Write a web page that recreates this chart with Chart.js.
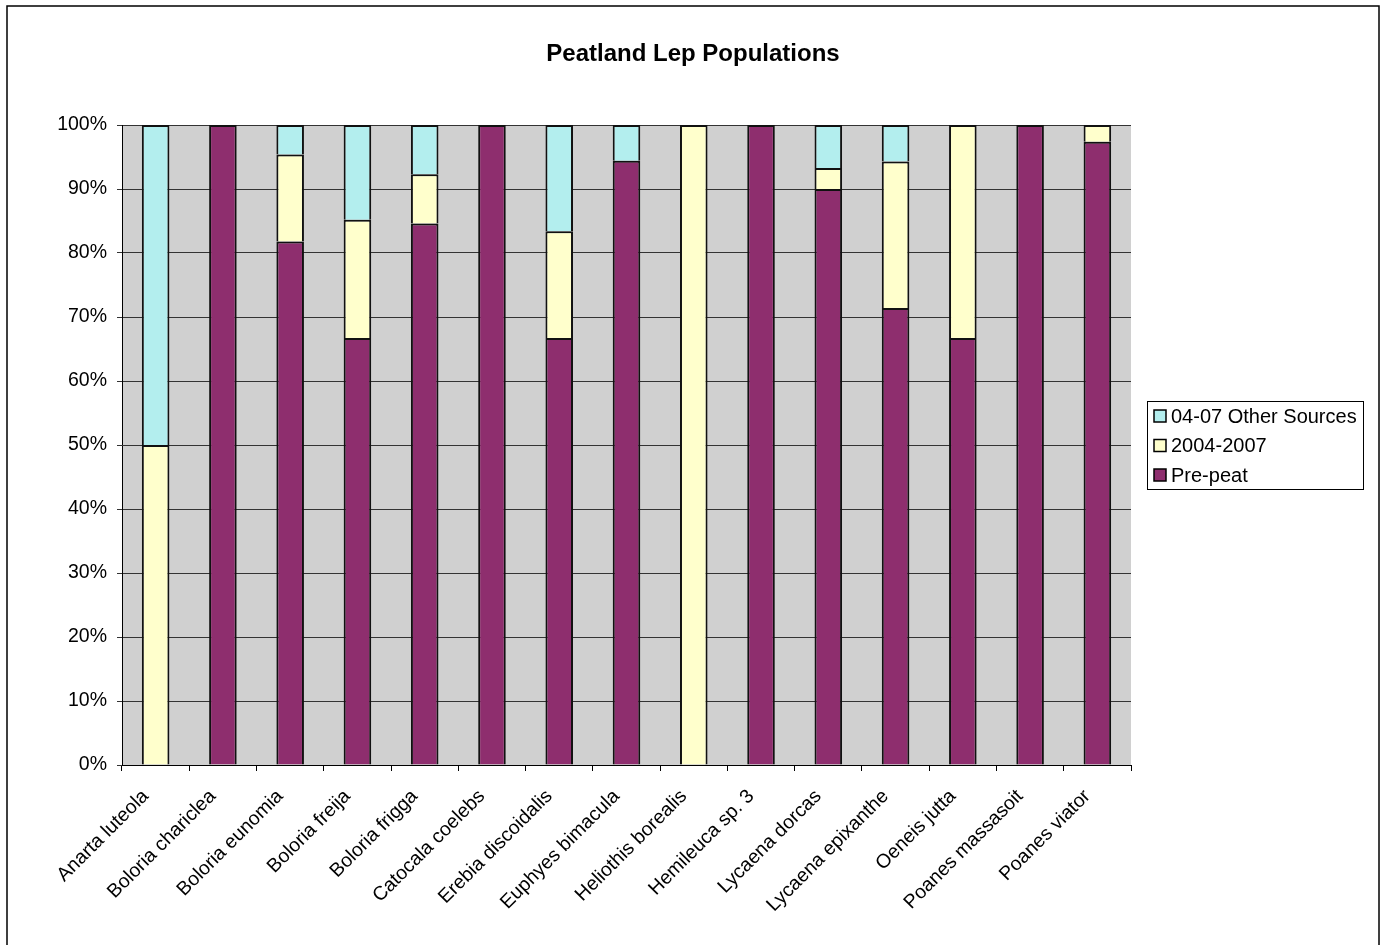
<!DOCTYPE html>
<html>
<head>
<meta charset="utf-8">
<title>Peatland Lep Populations</title>
<script src="https://cdn.jsdelivr.net/npm/chart.js@4/dist/chart.umd.min.js"></script>
<style>
  html, body { margin: 0; padding: 0; background: #fff; }
  canvas { display: block; }
</style>
</head>
<body>
<canvas id="myChart" width="1383" height="945"></canvas>
<script>
const chartTitle = 'Peatland Lep Populations';

const species = [
    'Anarta luteola', 'Boloria chariclea', 'Boloria eunomia', 'Boloria freija',
    'Boloria frigga', 'Catocala coelebs', 'Erebia discoidalis', 'Euphyes bimacula',
    'Heliothis borealis', 'Hemileuca sp. 3', 'Lycaena dorcas', 'Lycaena epixanthe',
    'Oeneis jutta', 'Poanes massasoit', 'Poanes viator'
];

// percent of each species' records
const prePeat      = [0, 100, 81.8, 66.7, 84.6, 100, 66.7, 94.4, 0, 100, 90.0, 71.4, 66.7, 100, 97.4];
const recent0407   = [50, 0, 13.6, 18.5, 7.7, 0, 16.7, 0, 100, 0, 3.3, 22.9, 33.3, 0, 2.6];
const otherSources = [50, 0, 4.6, 14.8, 7.7, 0, 16.6, 5.6, 0, 0, 6.7, 5.7, 0, 0, 0];

const seriesNames = ['Pre-peat', '2004-2007', '04-07 Other Sources'];
const yTicks = [0, 10, 20, 30, 40, 50, 60, 70, 80, 90, 100];

const FONT = '"Liberation Sans", Arial, sans-serif';
const colors = ['#8E2E6E', '#FFFFCC', '#B3EEEE'];

// white page, outer frame, grey plot area, title
const framePlugin = {
    id: 'frame',
    beforeDraw(chart) {
        const { ctx, chartArea } = chart;
        ctx.save();
        ctx.fillStyle = '#fff';
        ctx.fillRect(0, 0, chart.width, chart.height);
        ctx.fillStyle = '#D0D0D0';
        ctx.fillRect(chartArea.left, chartArea.top, chartArea.right - chartArea.left, chartArea.bottom - chartArea.top);
        ctx.strokeStyle = '#000';
        ctx.lineWidth = 1.5;
        ctx.strokeRect(7, 6, 1372, 960);
        ctx.fillStyle = '#000';
        ctx.font = 'bold 24px ' + FONT;
        ctx.textAlign = 'center';
        ctx.textBaseline = 'middle';
        ctx.fillText(chartTitle, 693, 54);
        ctx.restore();
    }
};

// boxed legend on the right, top series first
const boxLegend = {
    id: 'boxLegend',
    afterDraw(chart) {
        const { ctx } = chart;
        const x = 1147, y = 401, w = 216, h = 88;
        ctx.save();
        ctx.fillStyle = '#fff';
        ctx.fillRect(x, y, w, h);
        ctx.strokeStyle = '#000';
        ctx.lineWidth = 1;
        ctx.strokeRect(x + 0.5, y + 0.5, w, h);
        ctx.font = '20px ' + FONT;
        ctx.textBaseline = 'middle';
        ctx.textAlign = 'left';
        const sets = chart.data.datasets.slice().reverse();
        sets.forEach((ds, i) => {
            const cy = y + 15 + i * 29.5;
            ctx.fillStyle = ds.backgroundColor;
            ctx.fillRect(x + 7, cy - 6, 12, 12);
            ctx.strokeStyle = '#000';
            ctx.lineWidth = 1.5;
            ctx.strokeRect(x + 7, cy - 6, 12, 12);
            ctx.fillStyle = '#000';
            ctx.fillText(ds.label, x + 24, cy + 1);
        });
        ctx.restore();
    }
};

const ctx = document.getElementById('myChart').getContext('2d');

new Chart(ctx, {
    type: 'bar',
    data: {
        labels: species,
        datasets: [prePeat, recent0407, otherSources].map((vals, i) => ({
            label: seriesNames[i],
            data: vals,
            backgroundColor: colors[i],
            borderColor: '#111',
            borderWidth: 2,
            borderSkipped: 'start',
            barPercentage: 0.41,
            categoryPercentage: 1.0
        }))
    },
    options: {
        responsive: false,
        animation: false,
        layout: {
            padding: { left: 8, right: 252, top: 125, bottom: 0 }
        },
        plugins: {
            legend: { display: false },
            tooltip: { enabled: false },
            title: { display: false }
        },
        scales: {
            x: {
                stacked: true,
                afterFit: (scale) => { scale.height = 180; },
                grid: {
                    display: true,
                    offset: true,
                    drawOnChartArea: false,
                    drawTicks: true,
                    tickLength: 6,
                    color: '#000'
                },
                border: { display: true, color: '#000', width: 1 },
                ticks: {
                    autoSkip: false,
                    maxRotation: 45,
                    minRotation: 45,
                    padding: 14,
                    labelOffset: -10,
                    color: '#000',
                    font: { family: FONT, size: 19.5 }
                }
            },
            y: {
                stacked: true,
                min: 0,
                max: 100,
                afterFit: (scale) => { scale.width = 114; },
                afterBuildTicks: (scale) => { scale.ticks = yTicks.map(v => ({ value: v })); },
                grid: {
                    color: '#333',
                    lineWidth: 1,
                    drawTicks: true,
                    tickLength: 5
                },
                border: { display: true, color: '#000', width: 1 },
                ticks: {
                    padding: 10,
                    color: '#000',
                    font: { family: FONT, size: 19.5 },
                    callback: (v) => v + '%'
                }
            }
        }
    },
    plugins: [framePlugin, boxLegend]
});
</script>
</body>
</html>
